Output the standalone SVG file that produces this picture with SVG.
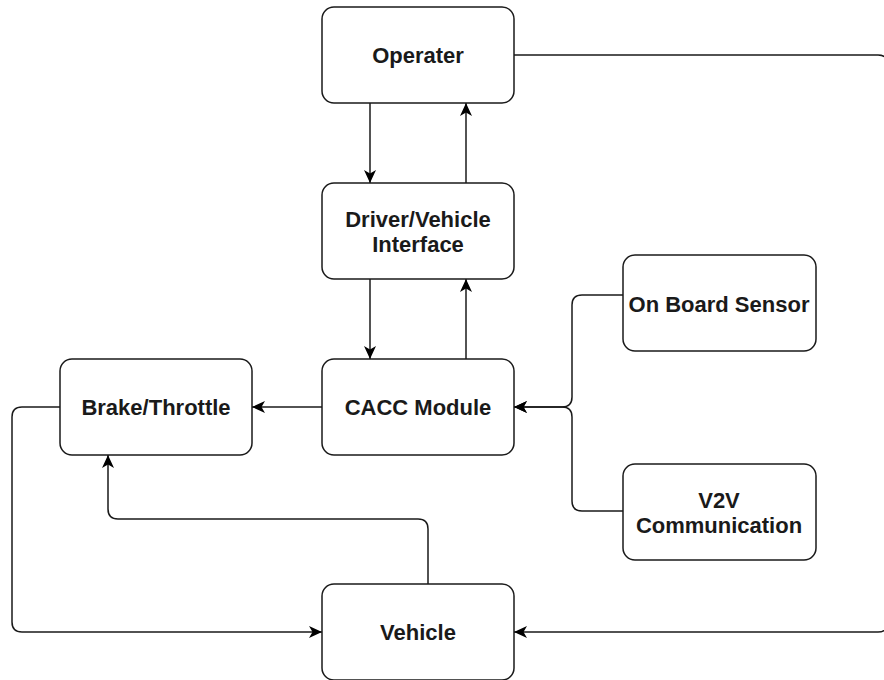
<svg xmlns="http://www.w3.org/2000/svg" width="884" height="680" viewBox="0 0 884 680">
<style>
.box{fill:#fff;stroke:#1a1a1a;stroke-width:1.5}
.lbl{font-family:"Liberation Sans",Arial,sans-serif;font-weight:bold;font-size:22px;fill:#1a1a1a;text-anchor:middle}
.edge{fill:none;stroke:#1a1a1a;stroke-width:1.5}
</style>
<defs>
<marker id="arr" viewBox="0 0 13 13" markerWidth="13" markerHeight="13" refX="13" refY="6.5" orient="auto" markerUnits="userSpaceOnUse">
<path d="M0,0.5 L13,6.5 L0,12.5 L3.5,6.5 Z" fill="#000"/>
</marker>
</defs>
<rect width="884" height="680" fill="#fff"/>
<g id="connectors">
<path class="edge" d="M370,103 L370,183" marker-end="url(#arr)"/>
<path class="edge" d="M466,183 L466,103" marker-end="url(#arr)"/>
<path class="edge" d="M370,279 L370,359" marker-end="url(#arr)"/>
<path class="edge" d="M466,359 L466,279" marker-end="url(#arr)"/>
<path class="edge" d="M322,407 L252,407" marker-end="url(#arr)"/>
<path class="edge" d="M623,295 L582,295 Q572,295 572,305 L572,397 Q572,407 562,407 L514,407" marker-end="url(#arr)"/>
<path class="edge" d="M623,511 L582,511 Q572,511 572,501 L572,417 Q572,407 562,407 L514,407" marker-end="url(#arr)"/>
<path class="edge" d="M60,407 L22,407 Q12,407 12,417 L12,622 Q12,632 22,632 L322,632" marker-end="url(#arr)"/>
<path class="edge" d="M428,584 L428,529 Q428,519 418,519 L118,519 Q108,519 108,509 L108,455" marker-end="url(#arr)"/>
<path class="edge" d="M514,55 L878,55 Q888,55 888,65 L888,622 Q888,632 878,632 L514,632" marker-end="url(#arr)"/>
</g>
<g id="operater">
<rect class="box" x="322" y="7" width="192" height="96" rx="12"/>
<text class="lbl" x="418" y="63">Operater</text>
</g>
<g id="driver-vehicle-interface">
<rect class="box" x="322" y="183" width="192" height="96" rx="12"/>
<text class="lbl" x="418" y="227">Driver/Vehicle</text>
<text class="lbl" x="418" y="252">Interface</text>
</g>
<g id="brake-throttle">
<rect class="box" x="60" y="359" width="192" height="96" rx="12"/>
<text class="lbl" x="156" y="415">Brake/Throttle</text>
</g>
<g id="cacc-module">
<rect class="box" x="322" y="359" width="192" height="96" rx="12"/>
<text class="lbl" x="418" y="415">CACC Module</text>
</g>
<g id="on-board-sensor">
<rect class="box" x="623" y="255" width="193" height="96" rx="12"/>
<text class="lbl" x="719" y="312">On Board Sensor</text>
</g>
<g id="v2v-communication">
<rect class="box" x="623" y="464" width="193" height="96" rx="12"/>
<text class="lbl" x="719" y="508">V2V</text>
<text class="lbl" x="719" y="533">Communication</text>
</g>
<g id="vehicle">
<rect class="box" x="322" y="584" width="192" height="96" rx="12"/>
<text class="lbl" x="418" y="640">Vehicle</text>
</g>
</svg>
